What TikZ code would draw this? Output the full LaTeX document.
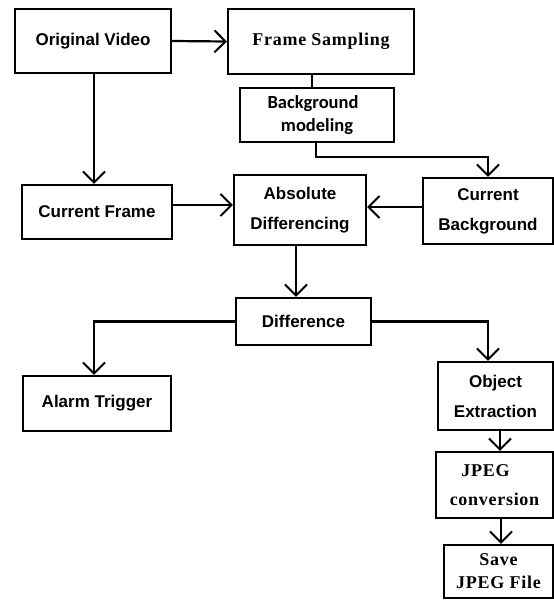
\documentclass[tikz,border=0pt]{standalone}
\usepackage{fontspec}
\usetikzlibrary{arrows.meta}
\newfontfamily\arialb{Liberation Sans}
\newfontfamily\calb{Carlito}
\newfontfamily\timesb[LetterSpace=4]{Liberation Serif}
\tikzset{
  box/.style={draw, line width=2.2pt, inner sep=0pt, align=center},
  sans/.style={font={\arialb\bfseries\fontsize{17}{30}\selectfont}},
  cal/.style={font={\calb\bfseries\fontsize{18.5}{23}\selectfont}},
  ser/.style={font={\timesb\bfseries\fontsize{18}{29}\selectfont}},
  ser2/.style={font={\timesb\bfseries\fontsize{18}{23}\selectfont}},
  conn/.style={line width=2.2pt},
  arr/.style={conn, -{Straight Barb[length=11pt,width=22pt,line width=2pt]}},
}
\begin{document}
\begin{tikzpicture}[x=1pt,y=-1pt]
\useasboundingbox (0,0) rectangle (554,600);
\node[box,sans,minimum width=156pt,minimum height=64pt] (ov) at (93,41) {Original Video};
\node[box,ser,minimum width=186pt,minimum height=65pt] (fs) at (321,41.5) {Frame Sampling};
\node[box,cal,minimum width=154pt,minimum height=54pt] (bg) at (317,115) {\hspace*{-8pt}Background\\modeling};
\node[box,sans,minimum width=150pt,minimum height=54pt] (cf) at (97,212) {Current Frame};
\node[box,sans,minimum width=132pt,minimum height=70pt] (ad) at (300,210) {Absolute\\Differencing};
\node[box,sans,minimum width=130pt,minimum height=66pt] (cb) at (488,211) {Current\\Background};
\node[box,sans,minimum width=135pt,minimum height=47pt] (df) at (303.5,321.5) {Difference};
\node[box,sans,minimum width=148pt,minimum height=55pt] (at) at (97,403.5) {Alarm Trigger};
\node[box,sans,minimum width=115pt,minimum height=68pt] (oe) at (495.5,396) {Object\\Extraction};
\node[box,ser,minimum width=117pt,minimum height=66pt] (jp) at (494.5,485) {JPEG\hspace*{18pt}\\conversion};
\node[box,ser2,minimum width=109pt,minimum height=53pt] (sv) at (498.5,571.5) {Save\\JPEG File};
\coordinate (k1) at (316,157);
\draw[arr] (ov.east) -- (fs.west);
\draw[arr] ([xshift=1pt]ov.south) -- ([xshift=1pt]ov.south |- cf.north);
\draw[conn] ([xshift=-9pt]fs.south) -- ([xshift=-9pt]fs.south |- bg.north);
\draw[arr] (bg.south -| k1) -- (k1) -| (cb.north);
\draw[arr] ([yshift=7pt]cf.east) -- ([yshift=7pt]cf.east -| ad.west);
\draw[arr] ([yshift=4pt]cb.west) -- ([yshift=4pt]cb.west -| ad.east);
\draw[arr] ([xshift=-4pt]ad.south) -- ([xshift=-4pt]ad.south |- df.north);
\draw[arr] (df.west) -| ([xshift=-3pt]at.north);
\draw[arr] (df.east) -| ([xshift=-7.5pt]oe.north);
\draw[arr] ([xshift=4.5pt]oe.south) -- ([xshift=4.5pt]oe.south |- jp.north);
\draw[arr] ([xshift=6.5pt]jp.south) -- ([xshift=6.5pt]jp.south |- sv.north);
\end{tikzpicture}
\end{document}
